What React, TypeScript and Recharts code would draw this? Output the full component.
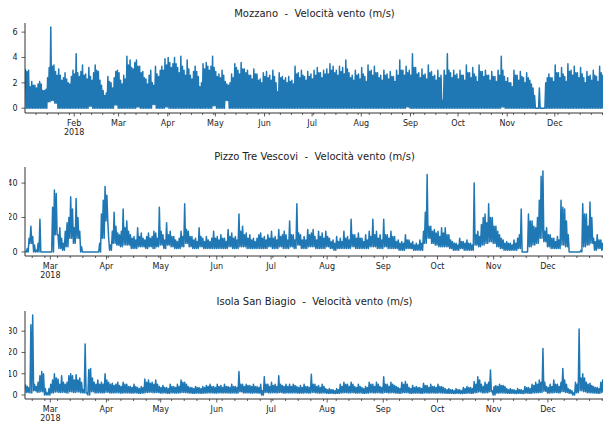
import React from 'react';
import { LineChart, Line, XAxis, YAxis } from 'recharts';

const FONT = "'DejaVu Sans', sans-serif";
const LINE_COLOR = '#1f77b4';
const AXIS_COLOR = '#333333';
const TEXT_COLOR = '#222222';

// ---- axis labels ----
const monthLabels = ['Jan', 'Feb', 'Mar', 'Apr', 'May', 'Jun', 'Jul', 'Aug', 'Sep', 'Oct', 'Nov', 'Dec'];
const monthStartDays = [0, 31, 59, 90, 120, 151, 181, 212, 243, 273, 304, 334];
const yearLabel = '2018';

const mozzanoTitle = 'Mozzano  -  Velocità vento (m/s)';
const pizzoTitle = 'Pizzo Tre Vescovi  -  Velocità vento (m/s)';
const isolaTitle = 'Isola San Biagio  -  Velocità vento (m/s)';

const mozzanoYTicks = [0, 2, 4, 6];
const pizzoYTicks = [0, 20, 40];
const isolaYTicks = [0, 10, 20, 30];

// ---- Mozzano: daily peak from 2018-01-01, and low of each 2-day bin ----
const mozzanoStartDay = 0;
const mozzanoDailyPeak = [
  3.1, 2.9, 3.0, 1.7, 2.1, 1.8, 1.8, 1.6, 1.9, 2.1,
  1.9, 1.4, 1.4, 1.5, 2.4, 3.2, 6.4, 3.3, 3.4, 2.9,
  2.6, 3.1, 2.6, 2.2, 2.4, 2.8, 2.3, 2.0, 1.9, 2.5,
  3.0, 2.7, 4.3, 2.8, 2.5, 2.9, 3.4, 2.6, 2.7, 2.3,
  3.2, 2.5, 2.2, 2.8, 3.4, 3.0, 2.9, 2.2, 1.8, 1.4,
  1.0, 1.2, 2.5, 2.1, 2.0, 1.6, 2.4, 2.9, 3.0, 2.8,
  2.2, 1.9, 2.6, 2.3, 4.1, 3.4, 3.8, 3.2, 3.1, 3.6,
  3.8, 3.3, 3.3, 2.8, 2.9, 2.4, 2.3, 1.9, 2.6, 3.0,
  2.0, 1.8, 3.3, 2.7, 2.5, 3.0, 3.3, 3.0, 3.9, 3.4,
  4.0, 3.6, 3.2, 3.5, 4.0, 3.5, 3.2, 2.8, 4.1, 3.3,
  3.0, 2.6, 3.8, 3.1, 2.6, 2.3, 2.9, 3.3, 2.9, 2.5,
  1.7, 2.0, 3.5, 3.1, 3.6, 3.3, 3.0, 3.3, 4.1, 3.2,
  2.9, 2.5, 2.7, 2.4, 3.0, 2.6, 2.1, 1.9, 1.8, 2.0,
  2.7, 2.4, 3.5, 3.2, 3.0, 2.7, 3.6, 3.1, 3.1, 2.8,
  3.0, 2.6, 2.6, 2.3, 3.1, 2.7, 2.7, 2.2, 2.3, 2.0,
  2.8, 2.5, 2.9, 2.4, 2.6, 2.2, 3.0, 2.5, 2.0, 1.3,
  2.8, 2.4, 2.5, 2.2, 2.4, 2.0, 2.5, 2.1, 2.2, 1.9,
  3.3, 2.7, 2.8, 2.4, 3.0, 2.6, 2.5, 2.2, 2.9, 2.5,
  2.7, 2.3, 3.0, 2.6, 3.2, 2.8, 2.8, 2.4, 3.0, 2.7,
  3.1, 2.7, 3.5, 3.0, 3.3, 2.8, 3.0, 2.6, 3.3, 2.9,
  3.2, 2.7, 3.8, 3.1, 2.8, 2.4, 2.6, 2.2, 3.0, 2.6,
  2.7, 2.3, 3.2, 2.7, 2.5, 2.1, 3.4, 2.9, 3.0, 2.6,
  3.3, 2.8, 2.8, 2.4, 2.6, 2.2, 3.0, 2.6, 2.7, 2.3,
  2.9, 2.5, 2.5, 2.1, 3.0, 2.6, 3.8, 3.0, 3.0, 2.6,
  3.3, 2.8, 3.0, 2.6, 4.3, 3.2, 3.2, 2.7, 2.8, 2.4,
  3.1, 2.6, 2.7, 2.3, 3.4, 2.8, 2.9, 2.5, 2.6, 2.2,
  3.0, 2.4, 2.6, 0.6, 3.0, 2.6, 4.3, 3.0, 2.8, 2.4,
  3.0, 2.6, 2.7, 2.3, 3.0, 2.6, 2.6, 2.2, 3.4, 2.8,
  2.8, 2.4, 3.2, 2.7, 2.5, 2.1, 3.4, 2.9, 2.9, 2.5,
  3.0, 2.6, 2.6, 2.2, 2.9, 2.5, 2.5, 2.1, 3.0, 2.6,
  4.1, 3.0, 2.5, 2.1, 2.4, 2.0, 2.0, 1.7, 3.0, 2.6,
  2.6, 2.2, 2.9, 2.5, 2.4, 2.0, 2.8, 2.4, 2.2, 1.9,
  1.6, 1.0, 0.0, 0.0, 1.6, 0.0, 0.0, 0.0, 2.0, 2.4,
  2.7, 2.4, 2.4, 2.1, 3.4, 2.8, 2.8, 2.4, 3.2, 2.7,
  2.5, 2.1, 3.5, 2.9, 3.0, 2.6, 3.3, 2.8, 2.8, 2.4,
  3.2, 2.7, 2.4, 2.0, 2.9, 2.5, 2.6, 2.2, 3.0, 2.6,
  2.5, 2.1, 3.3, 2.8, 2.6,
];
const mozzanoBinLow = [
  0, 0, 0, 0, 0, 0, 0, 0.5, 0.6, 0.4,
  0, 0, 0, 0, 0, 0, 0, 0, 0, 0,
  0.15, 0, 0, 0, 0, 0, 0, 0, 0.25, 0,
  0, 0, 0, 0, 0, 0.1, 0, 0, 0, 0,
  0.3, 0, 0, 0, 0.1, 0, 0, 0, 0, 0,
  0, 0, 0, 0, 0, 0, 0, 0, 0, 0.2,
  0, 0, 0, 0.6, 0, 0, 0, 0, 0, 0,
  0, 0, 0, 0, 0, 0, 0, 0, 0, 0,
  0, 0, 0, 0, 0, 0, 0, 0, 0, 0,
  0, 0, 0, 0, 0, 0, 0, 0, 0, 0,
  0, 0, 0, 0, 0, 0, 0, 0, 0, 0,
  0, 0, 0, 0, 0, 0, 0, 0, 0, 0,
  0.1, 0, 0, 0, 0, 0, 0, 0, 0, 0,
  0, 0, 0, 0, 0, 0, 0, 0, 0, 0,
  0, 0, 0, 0, 0, 0, 0, 0, 0, 0,
  0.1, 0, 0, 0, 0, 0, 0, 0, 0, 0,
  0, 0, 0, 0, 0, 0, 0, 0, 0, 0,
  0, 0, 0, 0, 0, 0, 0, 0, 0, 0,
  0, 0, 0,
];

// ---- Pizzo Tre Vescovi: daily peak from 2018-02-15, low of each 2-day bin ----
const pizzoStartDay = 45;
const pizzoDailyPeak = [
  0.5, 2, 8, 15, 9, 4, 1, 5, 19, 0,
  0, 0, 0, 0, 0, 26, 36, 34, 10, 14,
  8, 5, 12, 17, 20, 32, 25, 14, 31, 20,
  12, 3, 0, 0, 0, 0, 0, 0, 0, 0,
  0, 5, 22, 30, 38, 33, 8, 4, 12, 23,
  15, 11, 10, 12, 25, 14, 18, 12, 10, 8,
  9, 7, 14, 9, 11, 8, 7, 9, 11, 8,
  9, 12, 11, 8, 26, 12, 10, 7, 17, 10,
  12, 9, 9, 7, 6, 8, 12, 9, 28, 13,
  12, 9, 9, 7, 8, 6, 14, 9, 8, 6,
  9, 7, 6, 8, 12, 8, 9, 7, 10, 8,
  8, 6, 13, 9, 11, 8, 9, 7, 22, 12,
  15, 10, 11, 8, 10, 7, 8, 6, 8, 10,
  11, 8, 9, 7, 10, 8, 12, 8, 9, 7,
  13, 9, 10, 12, 10, 7, 18, 10, 10, 7,
  28, 11, 10, 7, 9, 7, 13, 10, 11, 13,
  9, 7, 12, 9, 11, 8, 12, 9, 8, 6,
  7, 5, 9, 6, 8, 6, 12, 8, 9, 7,
  19, 10, 10, 8, 11, 8, 8, 6, 10, 7,
  12, 9, 19, 10, 12, 8, 10, 7, 19, 10,
  10, 8, 12, 9, 9, 6, 7, 5, 6, 5,
  10, 7, 7, 5, 6, 4, 5, 4, 7, 5,
  12, 23, 45, 15, 15, 12, 13, 11, 12, 9,
  14, 11, 14, 10, 10, 7, 6, 5, 5, 4,
  8, 6, 6, 5, 7, 5, 5, 4, 40, 10,
  12, 9, 16, 20, 22, 17, 28, 20, 20, 15,
  15, 12, 10, 8, 7, 5, 6, 5, 5, 4,
  7, 5, 8, 10, 25, 0, 0, 0, 22, 18,
  18, 15, 14, 20, 30, 44, 47, 12, 14, 10,
  10, 8, 8, 6, 9, 7, 30, 26, 25, 18,
  10, 0, 0, 0, 0, 0, 0, 1, 28, 22,
  22, 15, 29, 20, 8, 6, 10, 7, 7, 5,
];
const pizzoBinLow = [
  0, 5, 0, 0, 0, 0, 0, 0, 10, 2,
  1, 3, 8, 5, 8, 0, 0, 0, 0, 0,
  0, 8, 18, 1, 5, 4, 3, 4, 4, 2,
  2, 3, 3, 2, 3, 2, 3, 4, 2, 4,
  3, 2, 2, 3, 5, 3, 2, 2, 3, 2,
  2, 2, 2, 2, 2, 2, 3, 2, 2, 3,
  3, 2, 2, 2, 2, 2, 2, 3, 2, 2,
  3, 2, 2, 3, 2, 4, 2, 2, 3, 3,
  2, 2, 2, 3, 2, 1, 2, 2, 2, 2,
  3, 2, 2, 2, 2, 3, 3, 2, 2, 3,
  2, 2, 2, 1, 1, 2, 2, 1, 1, 1,
  5, 8, 5, 4, 3, 3, 3, 2, 1, 1,
  2, 1, 1, 1, 4, 3, 4, 5, 6, 5,
  3, 2, 1, 1, 1, 1, 2, 0, 0, 3,
  4, 5, 8, 6, 3, 2, 2, 2, 4, 3,
  0, 0, 0, 0, 3, 4, 5, 1, 2, 1,
];

// ---- Isola San Biagio: daily peak from 2018-02-15, low of each 2-day bin ----
const isolaStartDay = 45;
const isolaDailyPeak = [
  5, 4, 3.5, 33, 37.6, 5, 4, 6, 9, 11,
  10, 3, 1, 3, 5, 7, 10, 8, 7.5, 5,
  9, 6, 5, 6, 9, 10, 9, 7, 9.5, 7,
  8, 6, 2.5, 24, 1, 12, 12.5, 8, 6, 5,
  7, 5, 6, 5, 10, 7, 6, 5, 5.5, 4.5,
  5, 6, 4.5, 4, 6, 5, 5, 4, 4, 3.5,
  5, 4, 3.5, 3, 4, 3.5, 7.5, 6, 7, 5.5,
  6, 5, 7, 5, 4, 3.5, 4.5, 3.5, 3.5, 3,
  5, 4, 4, 3.5, 5, 4, 7, 6, 6, 5,
  4, 3.5, 3.5, 3, 4, 3.5, 3.5, 3, 4, 3.5,
  4.5, 4, 5, 4, 4, 3.5, 5, 4, 4.5, 3.5,
  5, 4, 4, 3.5, 5, 4, 4, 3.5, 11, 5,
  5, 4, 5, 4.5, 4.5, 4, 5, 4, 4, 3.5,
  5, 2, 8.6, 5, 5, 4, 6, 4.5, 5, 4,
  9, 5, 4.5, 4, 5, 4, 5, 4, 5, 4.5,
  4, 3.5, 4.5, 3.5, 5, 4, 4, 3.5, 9.7, 5,
  5, 4, 4.5, 3.5, 5, 4, 3, 2.5, 3, 2.5,
  2.5, 2, 3, 2.5, 5, 4, 6, 5, 5, 4,
  6, 5, 4, 3.5, 5, 4, 3.5, 3, 4, 3.5,
  6, 5, 5, 4, 6, 5, 4, 3.5, 8.6, 5,
  5, 4, 6, 5, 4.5, 4, 3.5, 3, 6, 5,
  6.3, 5, 3.5, 3, 4.5, 3.5, 4, 3.5, 3.5, 3,
  5.5, 4.5, 4.5, 3.5, 5, 4, 4, 3.5, 5, 4,
  4, 3.5, 3, 2.5, 3, 2.5, 2.5, 2, 3, 2.5,
  2.5, 2, 3.5, 3, 4, 3.5, 3.5, 3, 6.3, 5,
  8.6, 7, 5, 4, 6, 5, 6, 11.7, 2, 4,
  4.5, 4, 5, 4.5, 4.5, 4, 3, 2.5, 3, 2.5,
  2.5, 2, 3, 2.5, 2.5, 2, 4, 3.5, 3.5, 3,
  5, 4.5, 6, 5, 7, 6, 21.9, 6, 4, 3.5,
  5, 4, 7, 5, 5, 4, 6, 12.5, 7, 5,
  3, 2.5, 2, 1, 6, 5, 31, 8, 10, 8,
  6, 5, 5.5, 4.5, 4, 3.5, 3.5, 3, 6, 7,
];
const isolaBinLow = [
  1.2, 1, 2, 1.3, 1.5, 0, 0, 1, 1.4, 1.2,
  1.3, 1, 1.5, 1.2, 1.4, 1.1, 1, 0, 1.5, 1,
  1.1, 1, 1.3, 1, 1, 1.1, 0.9, 1, 1, 0.9,
  1, 0.8, 0.9, 1.2, 1.3, 1.1, 1.2, 0.9, 1, 0.8,
  1, 0.9, 1, 1.2, 1.1, 0.9, 0.8, 0.9, 0.8, 0.9,
  1, 1, 0.9, 1, 1, 1, 0.9, 1, 0.9, 1.5,
  1, 1, 0.9, 1, 0.9, 0, 1.2, 1, 1.1, 1,
  1.2, 0.9, 1, 1, 1, 0.9, 0.9, 1, 0.9, 1.2,
  1, 0.9, 1, 0.8, 0.8, 0.7, 0.8, 1, 1.1, 1,
  1.1, 0.9, 1, 0.8, 0.9, 1.1, 1, 1.1, 0.9, 1.2,
  1, 1.1, 0.9, 0.8, 1.1, 1.1, 0.8, 0.9, 0.9, 0.8,
  1, 0.9, 1, 0.9, 1, 0.9, 0.8, 0.8, 0.7, 0.8,
  0.7, 0.8, 0.9, 0.8, 1.1, 1.4, 1, 1.1, 1.5, 0,
  0.9, 1, 0.9, 0.8, 0.8, 0.7, 0.8, 0.7, 0.9, 0.8,
  1, 1.1, 1.2, 1.8, 0.9, 1, 1.2, 1, 1.6, 1.2,
  0.8, 0, 1.1, 2, 1.5, 1.1, 1, 0.9, 0.8, 1.2,
];

type Pt = { t: number; v: number };
// each day contributes its peak, followed by the low of its 2-day bin
function buildSeries(dailyPeak: number[], binLow: number[]): Pt[] {
  const out: Pt[] = [];
  dailyPeak.forEach((hi, d) => {
    out.push({ t: d + 0.25, v: hi });
    out.push({ t: d + 0.75, v: binLow[Math.floor(d / 2)] });
  });
  return out;
}

type TickInfo = { major: { t: number; label: string }[]; minor: number[]; all: number[] };
function buildTicks(startDay: number, span: number): TickInfo {
  const major: { t: number; label: string }[] = [];
  monthStartDays.forEach((d, i) => {
    const t = d - startDay;
    if (t > 0 && t < span) major.push({ t, label: monthLabels[i] });
  });
  const majorSet = new Set(major.map((m) => m.t));
  const minor: number[] = [];
  for (let d = 0; d < 366; d += 7) {
    const t = d - startDay;
    if (t > 0 && t < span && !majorSet.has(t)) minor.push(t);
  }
  const all = [...major.map((m) => m.t), ...minor].sort((a, b) => a - b);
  return { major, minor, all };
}

function makeTick(info: TickInfo) {
  return (props: any) => {
    const { x, y, payload } = props;
    const t = payload.value;
    const idx = info.major.findIndex((m) => m.t === t);
    if (idx < 0) {
      return <line x1={x} x2={x} y1={y} y2={y + 2} stroke={AXIS_COLOR} strokeWidth={0.8} />;
    }
    return (
      <g>
        <line x1={x} x2={x} y1={y} y2={y + 3.5} stroke={AXIS_COLOR} strokeWidth={0.8} />
        <text x={x} y={y + 12.5} textAnchor="middle" fontSize={8} fontFamily={FONT} fill={TEXT_COLOR}>
          {info.major[idx].label}
        </text>
        {idx === 0 ? (
          <text x={x} y={y + 21.5} textAnchor="middle" fontSize={8} fontFamily={FONT} fill={TEXT_COLOR}>
            {yearLabel}
          </text>
        ) : null}
      </g>
    );
  };
}

type PanelProps = {
  top: number;
  height: number;
  marginTop: number;
  xAxisHeight: number;
  data: Pt[];
  span: number;
  startDay: number;
  yDomain: [number, number];
  yTicks: number[];
  title: string;
  titleTop: number;
};

function Panel(p: PanelProps) {
  const info = buildTicks(p.startDay, p.span);
  return (
    <>
      <div style={{ position: 'absolute', left: 0, top: p.top }}>
        <LineChart
          width={606}
          height={p.height}
          data={p.data}
          margin={{ top: p.marginTop, right: 2, bottom: 0, left: 0 }}
        >
          <XAxis
            dataKey="t"
            type="number"
            domain={[0, p.span]}
            ticks={info.all}
            interval={0}
            tickSize={0}
            tickMargin={0}
            tickLine={false}
            tick={makeTick(info)}
            height={p.xAxisHeight}
            axisLine={{ stroke: AXIS_COLOR, strokeWidth: 1 }}
            allowDataOverflow
          />
          <XAxis
            xAxisId="top"
            orientation="top"
            dataKey="t"
            type="number"
            domain={[0, p.span]}
            height={0}
            tick={false}
            tickLine={false}
            axisLine={{ stroke: AXIS_COLOR, strokeWidth: 1 }}
            allowDataOverflow
          />
          <YAxis
            type="number"
            domain={p.yDomain}
            ticks={p.yTicks}
            interval={0}
            width={25}
            tickSize={3.5}
            tickMargin={4}
            tick={{ fontSize: 8, fill: TEXT_COLOR, fontFamily: FONT }}
            tickLine={{ stroke: AXIS_COLOR, strokeWidth: 0.8 }}
            axisLine={{ stroke: AXIS_COLOR, strokeWidth: 1 }}
            allowDataOverflow
          />
          <Line
            type="linear"
            dataKey="v"
            stroke={LINE_COLOR}
            strokeWidth={1.5}
            strokeLinejoin="round"
            dot={false}
            activeDot={false}
            isAnimationActive={false}
          />
        </LineChart>
      </div>
      <div
        style={{
          position: 'absolute',
          left: 25,
          width: 579,
          top: p.titleTop,
          textAlign: 'center',
          fontFamily: FONT,
          fontSize: 10,
          lineHeight: '12px',
          color: TEXT_COLOR,
          whiteSpace: 'pre',
        }}
      >
        {p.title}
      </div>
    </>
  );
}

export default function App() {
  const mozzanoData = buildSeries(mozzanoDailyPeak, mozzanoBinLow);
  const pizzoData = buildSeries(pizzoDailyPeak, pizzoBinLow);
  const isolaData = buildSeries(isolaDailyPeak, isolaBinLow);
  return (
    <div
      style={{
        position: 'absolute',
        left: 0,
        top: 0,
        width: 603,
        height: 422,
        overflow: 'hidden',
        background: '#ffffff',
      }}
    >
      <Panel
        top={0}
        height={140}
        marginTop={23}
        xAxisHeight={27}
        data={mozzanoData}
        span={365}
        startDay={mozzanoStartDay}
        yDomain={[-0.38, 6.72]}
        yTicks={mozzanoYTicks}
        title={mozzanoTitle}
        titleTop={8}
      />
      <Panel
        top={140}
        height={145}
        marginTop={27}
        xAxisHeight={29}
        data={pizzoData}
        span={320}
        startDay={pizzoStartDay}
        yDomain={[-2.35, 49.35]}
        yTicks={pizzoYTicks}
        title={pizzoTitle}
        titleTop={151}
      />
      <Panel
        top={280}
        height={142}
        marginTop={31}
        xAxisHeight={23}
        data={isolaData}
        span={320}
        startDay={isolaStartDay}
        yDomain={[-1.88, 39.5]}
        yTicks={isolaYTicks}
        title={isolaTitle}
        titleTop={296}
      />
      <div style={{ position: 'absolute', left: 0, top: 0, width: 9, height: 422, background: '#ffffff' }} />
    </div>
  );
}
